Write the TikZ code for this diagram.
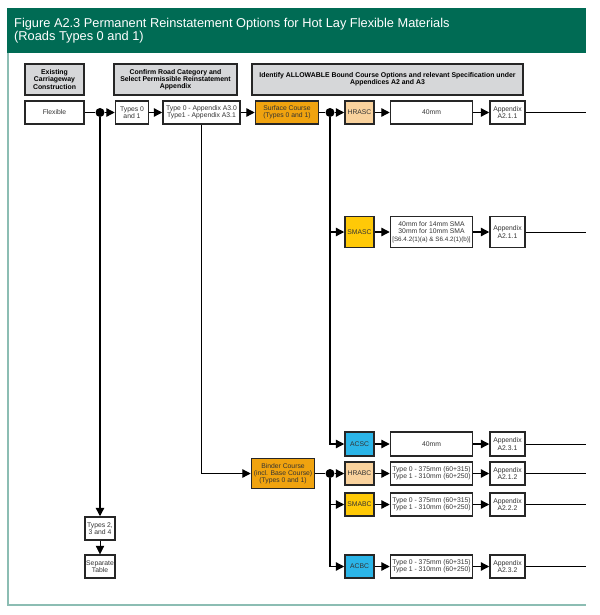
\documentclass[tikz,border=0pt]{standalone}
\usepackage{fontspec}
\setmainfont{Liberation Sans}
\usepackage{tikz}
\usetikzlibrary{arrows.meta, positioning}

\definecolor{hdrgreen}{HTML}{006B54}
\definecolor{frameteal}{HTML}{8CBDB3}
\definecolor{hdrgray}{HTML}{D6D7D9}
\definecolor{courseorange}{HTML}{F0A30F}
\definecolor{hrpeach}{HTML}{F9D29D}
\definecolor{smayellow}{HTML}{FFC907}
\definecolor{accyan}{HTML}{2BB5E8}

\begin{document}
\begin{tikzpicture}[
  x=1pt, y=-1pt,
  txt_box/.style={rectangle, draw=black!85, line width=1.5pt, fill=white, align=center, inner sep=1pt, minimum height=23pt, font=\fontsize{6.8}{7.2}\selectfont, text=black!80},
  head_box/.style={txt_box, fill=hdrgray, line width=1.7pt, minimum height=31pt, font=\bfseries\fontsize{6.9}{7.2}\selectfont, text=black},
  course_box/.style={txt_box, fill=courseorange, minimum width=63pt},
  hr_box/.style={txt_box, fill=hrpeach, minimum width=29pt},
  sma_box/.style={txt_box, fill=smayellow, minimum width=29pt},
  ac_box/.style={txt_box, fill=accyan, minimum width=29pt},
  spec_box/.style={txt_box, minimum width=82pt},
  app_box/.style={txt_box, minimum width=35pt},
  junction/.style={circle, fill=black, inner sep=0pt, minimum size=9pt},
  line/.style={line width=1.3pt},
  arrow/.style={line, -{Triangle[length=8.5pt,width=8.5pt]}},
  exit_line/.style={line width=1pt}
]

% Page and frame
\fill[white] (0,0) rectangle (599,615);
\useasboundingbox (0,0) rectangle (599,615);
\fill[hdrgreen] (7,8) rectangle (586,53);
\draw[frameteal, line width=2pt] (7.5,53) -- (7.5,605) -- (586,605);
\node[anchor=west, align=left, text=white, inner sep=0pt, font=\fontsize{12.8}{13.5}\selectfont] (title) at (14,30.5)
  {Figure A2.3 Permanent Reinstatement Options for Hot Lay Flexible Materials\\(Roads Types 0 and 1)};
\coordinate (rim) at (586,0);

% Column headings
\node[head_box, minimum width=59pt] (h_exist) at (54.5,79.5) {Existing\\Carriageway\\Construction};
\node[head_box, minimum width=123pt] (h_confirm) at (175.5,79.5) {Confirm Road Category and\\Select Permissible Reinstatement\\Appendix};
\node[head_box, minimum width=271pt] (h_ident) at (387.5,79.5) {Identify ALLOWABLE Bound Course Options and relevant Specification under\\Appendices A2 and A3};

% Road type selection
\node[txt_box, minimum width=59pt] (flex) at (54.5,112.5) {Flexible};
\node[junction] (fdot) at (100,112.5) {};
\node[txt_box, minimum width=33pt, right=30pt of flex] (t01) {Types 0\\and 1};
\node[txt_box, minimum width=77pt, right=13pt of t01] (tapp) {Type 0 - Appendix A3.0\\Type1 - Appendix A3.1};
\node[txt_box, minimum width=30pt] (t234) at (100,528.5) {Types 2,\\3 and 4};
\node[txt_box, minimum width=30pt] (septab) at (100,566.5) {Separate\\Table};

% Surface course
\node[course_box, right=14pt of tapp] (surf) {Surface Course\\(Types 0 and 1)};
\node[junction] (sdot) at (330,112.5) {};
\node[hr_box] (hrasc) at (359.5,112.5) {HRASC};
\node[spec_box, right=15pt of hrasc] (hrasc_spec) {40mm};
\node[app_box, right=16pt of hrasc_spec] (hrasc_app) {Appendix\\A2.1.1};
\node[sma_box, minimum height=31pt] (smasc) at (359.5,232) {SMASC};
\node[spec_box, minimum height=31pt, right=15pt of smasc] (smasc_spec) {40mm for 14mm SMA\\30mm for 10mm SMA\\{\fontsize{6.3}{7.2}\selectfont[S6.4.2(1)(a) \& S6.4.2(1)(b)]}};
\node[app_box, minimum height=31pt, right=16pt of smasc_spec] (smasc_app) {Appendix\\A2.1.1};
\node[ac_box, minimum height=24pt] (acsc) at (359.5,444) {ACSC};
\node[spec_box, minimum height=24pt, right=15pt of acsc] (acsc_spec) {40mm};
\node[app_box, minimum height=24pt, right=16pt of acsc_spec] (acsc_app) {Appendix\\A2.3.1};

% Binder course
\node[course_box, minimum height=30pt] (binder) at (283,473.5) {Binder Course\\(incl. Base Course)\\(Types 0 and 1)};
\node[junction] (bdot) at (330,473.5) {};
\node[hr_box] (hrabc) at (359.5,473.5) {HRABC};
\node[spec_box, right=15pt of hrabc] (hrabc_spec) {Type 0 - 375mm (60+315)\\Type 1 - 310mm (60+250)};
\node[app_box, right=16pt of hrabc_spec] (hrabc_app) {Appendix\\A2.1.2};
\node[sma_box] (smabc) at (359.5,504.5) {SMABC};
\node[spec_box, right=15pt of smabc] (smabc_spec) {Type 0 - 375mm (60+315)\\Type 1 - 310mm (60+250)};
\node[app_box, right=16pt of smabc_spec] (smabc_app) {Appendix\\A2.2.2};
\node[ac_box] (acbc) at (359.5,566.5) {ACBC};
\node[spec_box, right=15pt of acbc] (acbc_spec) {Type 0 - 375mm (60+315)\\Type 1 - 310mm (60+250)};
\node[app_box, right=16pt of acbc_spec] (acbc_app) {Appendix\\A2.3.2};

% Connectors
\draw[line] (flex) -- (fdot);
\draw[arrow] (fdot) -- (t01);
\draw[arrow] (fdot) -- (t234);
\draw[arrow, line width=0.6pt] (t234) -- (septab);
\draw[arrow] (t01) -- (tapp);
\draw[arrow] (tapp) -- (surf);
\draw[arrow] (tapp.south) |- (binder);
\draw[line] (surf) -- (sdot);
\draw[arrow] (sdot) -- (hrasc);
\draw[arrow] (sdot) |- (smasc);
\draw[arrow] (sdot) |- (acsc);
\draw[line] (binder) -- (bdot);
\draw[arrow] (bdot) -- (hrabc);
\draw[arrow] (bdot) |- (smabc);
\draw[arrow] (bdot) |- (acbc);
\foreach \row in {hrasc, smasc, acsc, hrabc, smabc, acbc} {
  \draw[arrow] (\row) -- (\row_spec);
  \draw[arrow] (\row_spec) -- (\row_app);
  \draw[exit_line] (\row_app) -- (\row_app -| rim);
}

\end{tikzpicture}
\end{document}
